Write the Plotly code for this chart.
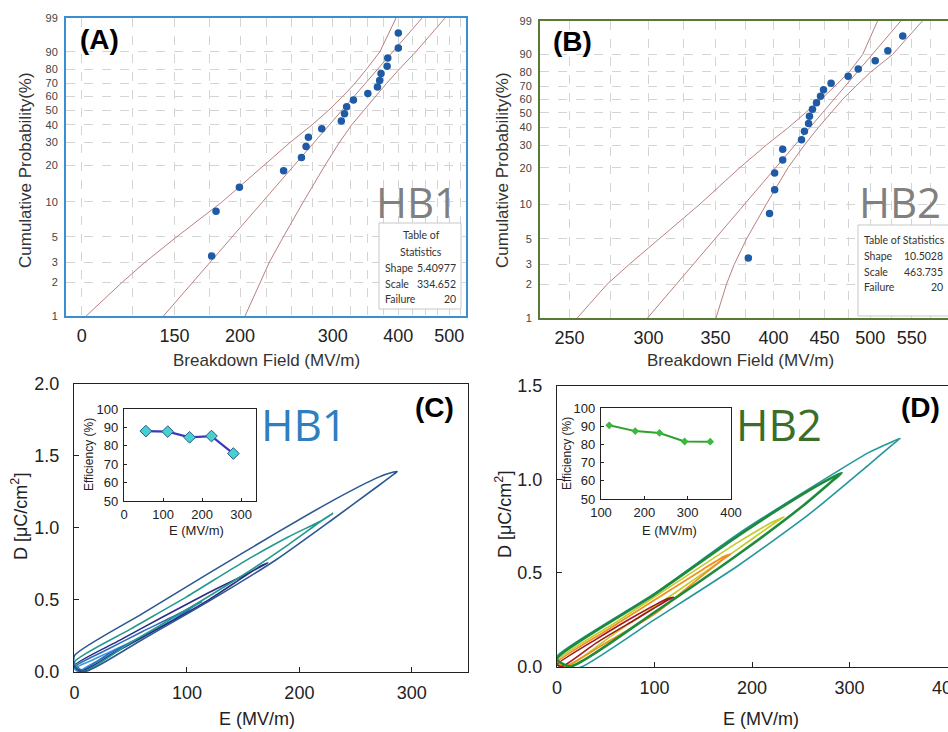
import numpy as np
import plotly.graph_objects as go

W, H = 948, 732

# ---------------- Weibull data (panels A, B) ----------------
prob_pct = [3.4, 8.3, 13.2, 18.1, 23.0, 27.9, 32.8, 37.7, 42.6, 47.5,
            52.5, 57.4, 62.3, 67.2, 72.1, 77.0, 81.9, 86.8, 91.7, 96.6]
hb1_field = [176.6, 180.0, 199.4, 242.0, 261.7, 267.0, 269.8, 286.0, 311.6, 316.0,
             319.0, 328.6, 350.0, 365.0, 368.6, 370.8, 380.8, 381.9, 400.0, 400.0]
hb2_field = [377.5, 396.4, 401.1, 401.1, 408.6, 408.6, 426.7, 429.6, 433.7, 434.6,
             437.6, 441.7, 445.8, 448.9, 456.8, 475.1, 486.3, 505.7, 520.6, 538.8]

bound_pct = [1, 2, 3, 5, 10, 20, 30, 40, 50, 60, 70, 80, 90, 99]
hb1_bound_left = [101.9, 119.5, 132.0, 151.6, 185.0, 221.5, 249.0, 274.0, 295.0, 313.5, 330.8, 348.0, 369.0, 396.0]
hb1_bound_right = [204.4, 218.3, 227.4, 241.8, 263.9, 290.2, 309.0, 326.0, 344.0, 362.0, 380.0, 401.8, 432.0, 490.8]
hb2_bound_left = [254.5, 272.7, 287.0, 307.5, 337.7, 370.1, 393.5, 414.0, 431.0, 446.4, 461.0, 476.4, 491.2, 508.4]
hb2_bound_right = [350.4, 359.0, 365.5, 375.9, 393.5, 413.6, 429.6, 443.5, 456.8, 469.2, 483.7, 500.6, 526.2, 563.7]

hb1_shape, hb1_scale, hb1_fail = 5.40977, 334.652, 20
hb2_shape, hb2_scale, hb2_fail = 10.5028, 463.735, 20

prob_ticks = [1, 2, 3, 5, 10, 20, 30, 40, 50, 60, 70, 80, 90, 99]
prob_ticktext = ["1", "2", "3", "5", "10", "20", "30", "40", "50", "60", "70", "80", "90", "99"]

a_grid = [100, 125, 150, 175, 200, 225, 250, 275, 300, 325, 350, 375, 400, 425, 450, 475, 500, 525]
a_tickvals = [100, 150, 200, 300, 400, 500]
a_ticktext = ["0", "150", "200", "300", "400", "500"]
b_grid = [250, 275, 300, 325, 350, 375, 400, 425, 450, 475, 500, 525, 550, 575]
b_tickvals = [250, 300, 350, 400, 450, 500, 550]
b_ticktext = ["250", "300", "350", "400", "450", "500", "550"]

# ---------------- D-E loops (panels C, D) ----------------
c_loops = [
    dict(color="#3a9ad9",
         E=[0, 15, 30, 45, 55, 57, 54, 45, 30, 15, 3, 0],
         D=[0.02, 0.075, 0.13, 0.185, 0.222, 0.23, 0.215, 0.17, 0.11, 0.05, 0.0, 0.02]),
    dict(color="#2c6cb8",
         E=[0, 30, 60, 90, 108, 113, 108, 90, 60, 30, 5, 0],
         D=[0.03, 0.155, 0.275, 0.39, 0.465, 0.485, 0.462, 0.37, 0.24, 0.12, 0.0, 0.03]),
    dict(color="#2b2c86",
         E=[0, 40, 80, 120, 150, 167, 172, 166, 150, 120, 80, 40, 6, 0],
         D=[0.04, 0.215, 0.385, 0.55, 0.665, 0.735, 0.755, 0.735, 0.655, 0.5, 0.32, 0.15, 0.0, 0.04]),
    dict(color="#23998c",
         E=[0, 50, 100, 150, 190, 220, 230, 222, 190, 150, 100, 50, 8, 0],
         D=[0.065, 0.295, 0.52, 0.76, 0.935, 1.05, 1.10, 1.06, 0.88, 0.67, 0.43, 0.2, 0.0, 0.065]),
    dict(color="#2b5893",
         E=[0, 60, 120, 180, 230, 270, 283, 287, 282, 270, 230, 180, 120, 60, 10, 0, 0],
         D=[0.11, 0.40, 0.685, 0.965, 1.19, 1.35, 1.385, 1.39, 1.36, 1.29, 1.06, 0.78, 0.49, 0.22, 0.0, 0.03, 0.11]),
]
d_loops = [
    dict(color="#24979b", width=1.6,
         E=[0, 100, 186, 260, 320, 345, 352, 345, 320, 260, 186, 100, 26, 5, 0, 0],
         D=[0.055, 0.39, 0.71, 0.955, 1.145, 1.205, 1.22, 1.19, 1.08, 0.82, 0.54, 0.25, 0.0, -0.02, 0.02, 0.055]),
    dict(color="#c4cc2a", width=1.6,
         E=[0, 60, 120, 186, 222, 233, 224, 186, 120, 60, 10, 0],
         D=[0.03, 0.235, 0.44, 0.665, 0.775, 0.80, 0.77, 0.63, 0.39, 0.18, 0.0, 0.03]),
    dict(color="#f0901e", width=1.8,
         E=[0, 50, 100, 150, 172, 178, 172, 150, 100, 50, 8, 0],
         D=[0.02, 0.19, 0.355, 0.52, 0.59, 0.60, 0.58, 0.49, 0.28, 0.125, 0.0, 0.02]),
    dict(color="#9b1b1e", width=1.6,
         E=[0, 40, 80, 112, 120, 112, 80, 40, 5, 0],
         D=[0.01, 0.145, 0.27, 0.36, 0.37, 0.35, 0.25, 0.125, 0.0, 0.01]),
    dict(color="#1e8a3c", width=2.6,
         E=[0, 100, 186, 250, 282, 292, 284, 250, 186, 100, 14, 0],
         D=[0.04, 0.385, 0.70, 0.915, 1.01, 1.035, 1.0, 0.85, 0.60, 0.29, 0.0, 0.04]),
]

# ---------------- Efficiency insets ----------------
c_eff_E = [56, 112, 168, 224, 280]
c_eff = [88.0, 87.7, 84.6, 85.3, 75.8]
d_eff_E = [119, 179, 235, 293, 352]
d_eff = [90.5, 87.3, 86.3, 81.6, 81.5]


def wb(p):
    p = np.asarray(p, dtype=float) / 100.0
    return np.log(-np.log(1.0 - p))


def dx(a, b):
    return [a / W, b / W]


def dy(top, bottom):
    return [1 - bottom / H, 1 - top / H]


fig = go.Figure()

BOUND = "#b98080"
PT = "#1f5aa6"


def weibull_panel(xa, ya, field, bl, br, shape, scale):
    fig.add_trace(go.Scatter(x=bl, y=wb(bound_pct), mode="lines", line=dict(color=BOUND, width=1),
                             xaxis=xa, yaxis=ya, showlegend=False, hoverinfo="skip"))
    fig.add_trace(go.Scatter(x=br, y=wb(bound_pct), mode="lines", line=dict(color=BOUND, width=1),
                             xaxis=xa, yaxis=ya, showlegend=False, hoverinfo="skip"))
    wend = wb([1, 99])
    fit_x = scale * np.exp(wend / shape)
    fig.add_trace(go.Scatter(x=fit_x, y=wend, mode="lines", line=dict(color=BOUND, width=1),
                             xaxis=xa, yaxis=ya, showlegend=False, hoverinfo="skip"))
    fig.add_trace(go.Scatter(x=field, y=wb(prob_pct), mode="markers",
                             marker=dict(color=PT, size=7.5),
                             xaxis=xa, yaxis=ya, showlegend=False))


weibull_panel("x", "y", hb1_field, hb1_bound_left, hb1_bound_right, hb1_shape, hb1_scale)
weibull_panel("x2", "y2", hb2_field, hb2_bound_left, hb2_bound_right, hb2_shape, hb2_scale)

for lp in c_loops:
    fig.add_trace(go.Scatter(x=lp["E"], y=lp["D"], mode="lines",
                             line=dict(color=lp["color"], width=1.6, shape="spline", smoothing=0.6),
                             xaxis="x3", yaxis="y3", showlegend=False, hoverinfo="skip"))
for lp in d_loops:
    fig.add_trace(go.Scatter(x=lp["E"], y=lp["D"], mode="lines",
                             line=dict(color=lp["color"], width=lp["width"], shape="spline", smoothing=0.6),
                             xaxis="x4", yaxis="y4", showlegend=False, hoverinfo="skip"))

fig.add_trace(go.Scatter(x=c_eff_E, y=c_eff, mode="lines+markers",
                         line=dict(color="#3838c0", width=2.2),
                         marker=dict(symbol="diamond", size=9, color="#48d0d0", line=dict(color="#2a5a8a", width=1)),
                         xaxis="x5", yaxis="y5", showlegend=False))
fig.add_trace(go.Scatter(x=d_eff_E, y=d_eff, mode="lines+markers",
                         line=dict(color="#2ea02e", width=2),
                         marker=dict(symbol="diamond", size=6, color="#3cb83c"),
                         xaxis="x6", yaxis="y6", showlegend=False))

GRID = "#d4d4d4"
AF = "Arial"


def wei_x(domain, rng, grid, tv, tt, lc):
    return dict(type="log", domain=domain, range=[np.log10(rng[0]), np.log10(rng[1])],
                tickmode="array", tickvals=tv, ticktext=tt,
                showgrid=False,
                minor=dict(tickmode="array", tickvals=grid, showgrid=True, gridcolor=GRID,
                           griddash="dash", gridwidth=1, ticks=""),
                showline=True, linecolor=lc, linewidth=2, mirror=True, ticks="", zeroline=False,
                tickfont=dict(family=AF, size=18, color="#222"), ticklabelstandoff=2, automargin=False)


def wei_y(domain, lc, mirror, xa):
    return dict(domain=domain, range=[float(wb(1)), float(wb(99))], anchor=xa,
                tickmode="array", tickvals=list(wb(prob_ticks)), ticktext=prob_ticktext,
                showgrid=True, gridcolor=GRID, griddash="dash", gridwidth=1,
                showline=True, linecolor=lc, linewidth=2, mirror=mirror, ticks="", zeroline=False,
                tickfont=dict(family=AF, size=11, color="#444"), ticklabelstandoff=4, automargin=False)


A_C = "#3b8ed0"
B_C = "#587a34"

common_c = dict(showline=True, linecolor="#222", linewidth=1.3, ticks="inside", ticklen=5,
                tickcolor="#222", showgrid=False, zeroline=False, automargin=False,
                tickfont=dict(family=AF, size=18, color="#222"))
common_in = dict(showline=True, linecolor="#222", linewidth=1.2, mirror=True, ticks="inside", ticklen=3,
                 tickcolor="#222", showgrid=False, zeroline=False, automargin=False,
                 tickfont=dict(family=AF, size=13, color="#222"))

layout = dict(
    width=W, height=H, margin=dict(l=0, r=0, t=0, b=0, pad=0), autosize=False,
    paper_bgcolor="white", plot_bgcolor="white", showlegend=False,
    xaxis=dict(wei_x(dx(66, 466), (93.3, 538), a_grid, a_tickvals, a_ticktext, A_C), anchor="y"),
    yaxis=wei_y(dy(18, 316), A_C, True, "x"),
    xaxis2=dict(wei_x(dx(540, 948), (233.6, 598), b_grid, b_tickvals, b_ticktext, B_C), anchor="y2"),
    yaxis2=wei_y(dy(21, 318), B_C, False, "x2"),
    xaxis3=dict(common_c, domain=dx(74, 468), range=[-0.5, 350], anchor="y3", tickvals=[0, 100, 200, 300],
                mirror=True, ticklabelstandoff=4),
    yaxis3=dict(common_c, domain=dy(384, 672), range=[-0.005, 2.0], anchor="x3",
                tickvals=[0, 0.5, 1.0, 1.5, 2.0], tickformat=".1f", mirror=True, ticklabelstandoff=10),
    xaxis4=dict(common_c, domain=dx(557, 948), range=[0, 401], anchor="y4", tickvals=[0, 100, 200, 300, 400],
                mirror=True, ticklabelstandoff=4, ticklabeloverflow="allow"),
    yaxis4=dict(common_c, domain=dy(386, 667), range=[-0.003, 1.5], anchor="x4",
                tickvals=[0, 0.5, 1.0, 1.5], tickformat=".1f", mirror=False, ticklabelstandoff=10),
    xaxis5=dict(common_in, domain=dx(124, 256), range=[0, 338], anchor="y5", tickvals=[0, 100, 200, 300],
                ticklabelstandoff=1),
    yaxis5=dict(common_in, domain=dy(409, 501), range=[50, 100], anchor="x5",
                tickvals=[50, 60, 70, 80, 90, 100], ticklabelstandoff=2),
    xaxis6=dict(common_in, domain=dx(601, 731), range=[100, 400], anchor="y6", tickvals=[100, 200, 300, 400],
                ticklabelstandoff=1),
    yaxis6=dict(common_in, domain=dy(408, 499), range=[50, 100], anchor="x6",
                tickvals=[50, 60, 70, 80, 90, 100], ticklabelstandoff=2),
)
fig.update_layout(**layout)

ann = []


def text(x, y, s, size, color="#222", family=AF, angle=0, xanchor="center", yanchor="middle", bold=False):
    if bold:
        s = "<b>" + s + "</b>"
    ann.append(dict(x=x / W, y=1 - y / H, xref="paper", yref="paper", text=s, showarrow=False,
                    font=dict(family=family, size=size, color=color), textangle=angle,
                    xanchor=xanchor, yanchor=yanchor))


# panel labels
text(78, 40, "(A)", 28, "#000", xanchor="left", bold=True)
text(551, 41, "(B)", 28, "#000", xanchor="left", bold=True)
text(413, 407, "(C)", 28, "#000", xanchor="left", bold=True)
text(899, 407, "(D)", 28, "#000", xanchor="left", bold=True)

# sample names
text(417, 202, "HB1", 42, "#808080", family="Open Sans")
text(900, 202, "HB2", 42, "#808080", family="Open Sans")
text(304, 424, "HB1", 44, "#2f7fc0", family="Open Sans")
text(779, 424, "HB2", 44, "#3b6e2a", family="Open Sans")

# axis titles
text(25, 170, "Cumulative Probability(%)", 17, "#333", angle=-90)
text(502, 170, "Cumulative Probability(%)", 17, "#333", angle=-90)
text(266, 361, "Breakdown Field (MV/m)", 17, "#333")
text(740, 361, "Breakdown Field (MV/m)", 17, "#333")
text(257, 719, "E (MV/m)", 18, "#222")
text(761, 719, "E (MV/m)", 18, "#222")
text(19, 517, "D [μC/cm<sup>2</sup>]", 18, "#222", angle=-90)
text(503, 515, "D [μC/cm<sup>2</sup>]", 18, "#222", angle=-90)
text(196, 530, "E (MV/m)", 13, "#222")
text(669, 530, "E (MV/m)", 13, "#222")
text(89, 455, "Efficiency (%)", 12, "#222", angle=-90)
text(567, 454, "Efficiency (%)", 12, "#222", angle=-90)

# statistics tables
TF = "Lato"
shapes = [
    dict(type="rect", xref="paper", yref="paper", x0=379 / W, x1=461 / W, y0=1 - 309 / H, y1=1 - 223 / H,
         fillcolor="white", line=dict(color="#c8c8c8", width=1), layer="above"),
    dict(type="rect", xref="paper", yref="paper", x0=858 / W, x1=960 / W, y0=1 - 316 / H, y1=1 - 225 / H,
         fillcolor="white", line=dict(color="#c8c8c8", width=1), layer="above"),
]
text(421, 235, "Table of", 10.5, "#333", family=TF)
text(421, 252, "Statistics", 10.5, "#333", family=TF)
text(383, 268, "Shape", 10.5, "#333", family=TF, xanchor="left")
text(458, 268, f"{hb1_shape:.5f}", 10.5, "#333", family=TF, xanchor="right")
text(383, 284, "Scale", 10.5, "#333", family=TF, xanchor="left")
text(458, 284, f"{hb1_scale:.3f}", 10.5, "#333", family=TF, xanchor="right")
text(383, 299, "Failure", 10.5, "#333", family=TF, xanchor="left")
text(458, 299, f"{hb1_fail}", 10.5, "#333", family=TF, xanchor="right")

text(862, 240, "Table of Statistics", 10.5, "#333", family=TF, xanchor="left")
text(862, 256, "Shape", 10.5, "#333", family=TF, xanchor="left")
text(945, 256, f"{hb2_shape:.4f}", 10.5, "#333", family=TF, xanchor="right")
text(862, 272, "Scale", 10.5, "#333", family=TF, xanchor="left")
text(945, 272, f"{hb2_scale:.3f}", 10.5, "#333", family=TF, xanchor="right")
text(862, 287, "Failure", 10.5, "#333", family=TF, xanchor="left")
text(945, 287, f"{hb2_fail}", 10.5, "#333", family=TF, xanchor="right")

fig.update_layout(annotations=ann, shapes=shapes)
fig.write_html("out.html", config={"displayModeBar": False},
               post_script="document.body.style.margin='0px';document.body.style.overflow='hidden';")
